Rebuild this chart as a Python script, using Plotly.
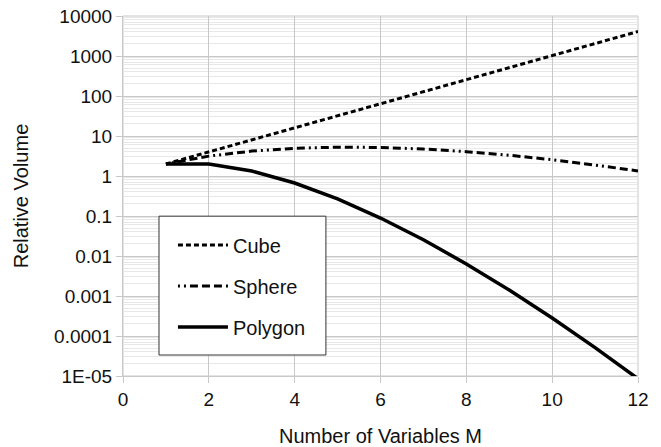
import plotly.graph_objects as go

# Relative volume of unit shapes versus number of variables
m_values = [1, 2, 3, 4, 5, 6, 7, 8, 9, 10, 11, 12]
cube = [2, 4, 8, 16, 32, 64, 128, 256, 512, 1024, 2048, 4096]
sphere = [2, 3.14, 4.19, 4.93, 5.26, 5.17, 4.72, 4.06, 3.30, 2.55, 1.88, 1.34]
polygon = [2, 2, 1.33, 0.667, 0.267, 0.0889, 0.0254, 0.00635, 0.00141,
           0.000282, 5.13e-5, 8.55e-6]

y_tickvals = [1e-5, 1e-4, 1e-3, 1e-2, 1e-1, 1, 10, 100, 1000, 10000]
y_ticktext = ["1E-05", "0.0001", "0.001", "0.01", "0.1", "1", "10", "100",
              "1000", "10000"]
x_tickvals = [0, 2, 4, 6, 8, 10, 12]

FONT = "Liberation Sans, Arial, sans-serif"
TEXT = "#111111"
GRID = "#c8c8c8"

fig = go.Figure()
fig.add_trace(go.Scatter(
    x=m_values, y=cube, name="Cube", mode="lines", legendgroup="a",
    line=dict(color="black", width=3, dash="5px,3px")))
fig.add_trace(go.Scatter(
    x=m_values, y=sphere, name="Sphere", mode="lines", legendgroup="b",
    line=dict(color="black", width=3,
              dash="2px,4px,2px,4px,8px,4px,8px,4px,8px,4px")))
fig.add_trace(go.Scatter(
    x=m_values, y=polygon, name="Polygon", mode="lines", legendgroup="c",
    line=dict(color="black", width=3.5)))

fig.update_layout(
    width=661, height=447,
    margin=dict(l=123, r=23, t=16, b=71),
    paper_bgcolor="white", plot_bgcolor="white",
    font=dict(family=FONT, size=19, color=TEXT),
    showlegend=True,
    legend=dict(
        x=0.097, y=0.418, xanchor="left", yanchor="top",
        bgcolor="rgba(0,0,0,0)", borderwidth=0,
        font=dict(family=FONT, size=20, color=TEXT),
        traceorder="grouped", tracegroupgap=12, itemwidth=50,
    ),
    xaxis=dict(
        range=[0, 12], tickvals=x_tickvals, automargin=False,
        showgrid=True, gridcolor=GRID, gridwidth=1,
        showline=True, linecolor=GRID, linewidth=1,
        ticks="outside", ticklen=6, tickcolor=GRID,
        zeroline=False,
        title=dict(text="Number of Variables M", standoff=22,
                   font=dict(family=FONT, size=20, color=TEXT)),
        tickfont=dict(family=FONT, size=19, color=TEXT),
    ),
    yaxis=dict(
        type="log", range=[-5, 4], automargin=False,
        tickvals=y_tickvals, ticktext=y_ticktext,
        showgrid=True, gridcolor=GRID, gridwidth=1,
        showline=True, linecolor=GRID, linewidth=1,
        ticks="outside", ticklen=6, tickcolor=GRID,
        minor=dict(dtick="D1", showgrid=True, gridcolor="#e8e8e8",
                   gridwidth=1, ticks=""),
        zeroline=False,
        title=dict(text="Relative Volume", standoff=20,
                   font=dict(family=FONT, size=20, color=TEXT)),
        tickfont=dict(family=FONT, size=19, color=TEXT),
    ),
)

# frame the top and right edges like the gridlines
fig.add_shape(type="rect", xref="paper", yref="paper", x0=0, y0=0, x1=1, y1=1,
              line=dict(color=GRID, width=1), layer="below")
# legend box
fig.add_shape(type="rect", xref="paper", yref="paper",
              x0=0.0699, x1=0.394, y0=0.0583, y1=0.444,
              fillcolor="white", line=dict(color="#333333", width=1),
              layer="above")

fig.write_html("out.html")
